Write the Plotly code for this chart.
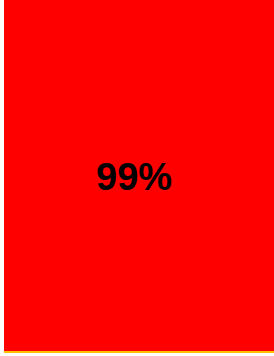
import plotly.graph_objects as go

categories = ["Progress"]
values = [99]
labels = ["99%"]

fig = go.Figure()
fig.add_trace(go.Bar(
    x=categories, y=values,
    marker=dict(color="#ff0000", line=dict(width=0)),
    hoverinfo="skip",
))
for c, v, t in zip(categories, values, labels):
    fig.add_annotation(
        x=c, y=v / 2, text="<b>" + t + "</b>", showarrow=False, xshift=-5, yshift=-1,
        font=dict(family="Liberation Sans, Arial, sans-serif", size=38, color="#000000"),
    )
fig.update_layout(
    width=274, height=356,
    margin=dict(l=4, r=0, t=0, b=5, pad=0),
    paper_bgcolor="#ffffff", plot_bgcolor="#ffffff",
    bargap=0, showlegend=False,
)
fig.update_xaxes(showticklabels=False, showgrid=False, zeroline=False,
                 showline=True, linecolor="#ffc000", linewidth=2, ticks="")
fig.update_yaxes(range=[0, 99], showticklabels=False, showgrid=False, zeroline=False, ticks="")
fig.write_html("out.html", config={"displayModeBar": False, "staticPlot": True},
               post_script="document.body.style.margin='0';document.body.style.overflow='hidden';")
